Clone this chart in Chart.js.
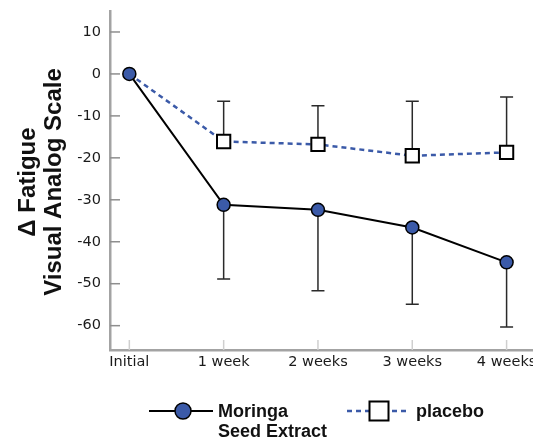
<!DOCTYPE html>
<html>
<head>
<meta charset="utf-8">
<script src="https://cdn.jsdelivr.net/npm/chart.js@4.4.1/dist/chart.umd.min.js"></script>
<style>
  html, body { margin: 0; padding: 0; background: #fff; }
  canvas { display: block; }
</style>
</head>
<body>
<canvas id="chart" width="533" height="438"></canvas>
<script>
const categories = ['Initial', '1 week', '2 weeks', '3 weeks', '4 weeks'];
const moringa = [0, -31.2, -32.4, -36.6, -44.9];
const moringaLow = [null, -48.9, -51.7, -54.9, -60.3];
const placebo = [0, -16.1, -16.8, -19.5, -18.7];
const placeboHigh = [null, -6.5, -7.6, -6.5, -5.5];
const yTicks = [10, 0, -10, -20, -30, -40, -50, -60];

const FONT = '"Liberation Sans", Arial, sans-serif';
const TICK_FONT = '"DejaVu Sans", sans-serif';
const BLUE = '#3b5aa8';

// tick marks, error bars, y title and legend
const deco = {
    id: 'deco',
    beforeDatasetsDraw(chart) {
        const { ctx, chartArea, scales: { x, y } } = chart;
        ctx.save();
        ctx.lineWidth = 1.5;
        ctx.strokeStyle = '#8e8e8e';
        yTicks.forEach(v => {
            const py = y.getPixelForValue(v);
            ctx.beginPath();
            ctx.moveTo(chartArea.left, py);
            ctx.lineTo(chartArea.left + 10, py);
            ctx.stroke();
        });
        ctx.strokeStyle = '#cfcfcf';
        categories.forEach((c, i) => {
            const px = x.getPixelForValue(i);
            ctx.beginPath();
            ctx.moveTo(px, chartArea.bottom);
            ctx.lineTo(px, chartArea.bottom - 10);
            ctx.stroke();
        });

        ctx.strokeStyle = '#2a2a2a';
        const errBar = (i, from, to) => {
            if (to === null) return;
            const px = x.getPixelForValue(i);
            const p1 = y.getPixelForValue(from);
            const p2 = y.getPixelForValue(to);
            ctx.beginPath();
            ctx.moveTo(px, p1);
            ctx.lineTo(px, p2);
            ctx.moveTo(px - 6.5, p2);
            ctx.lineTo(px + 6.5, p2);
            ctx.stroke();
        };
        categories.forEach((c, i) => {
            errBar(i, moringa[i], moringaLow[i]);
            errBar(i, placebo[i], placeboHigh[i]);
        });
        ctx.restore();
    },
    afterDraw(chart) {
        const ctx = chart.ctx;
        const [dsM, dsP] = chart.data.datasets;
        ctx.save();

        // y axis title
        ctx.fillStyle = '#111';
        ctx.font = 'bold 24px ' + FONT;
        ctx.textAlign = 'center';
        ctx.translate(0, 182);
        ctx.rotate(-Math.PI / 2);
        ctx.fillText('\u0394 Fatigue', 0, 35);
        ctx.fillText('Visual Analog Scale', 0, 61);
        ctx.setTransform(1, 0, 0, 1, 0, 0);

        // legend
        const ly = 411;
        ctx.strokeStyle = dsM.borderColor;
        ctx.lineWidth = dsM.borderWidth;
        ctx.beginPath();
        ctx.moveTo(149, ly);
        ctx.lineTo(213, ly);
        ctx.stroke();
        ctx.beginPath();
        ctx.arc(183, ly, 8, 0, Math.PI * 2);
        ctx.fillStyle = dsM.pointBackgroundColor;
        ctx.fill();
        ctx.lineWidth = 1.5;
        ctx.strokeStyle = '#000';
        ctx.stroke();

        ctx.strokeStyle = dsP.borderColor;
        ctx.lineWidth = dsP.borderWidth;
        ctx.setLineDash(dsP.borderDash);
        ctx.beginPath();
        ctx.moveTo(347, ly);
        ctx.lineTo(409, ly);
        ctx.stroke();
        ctx.setLineDash([]);
        ctx.fillStyle = '#fff';
        ctx.fillRect(369.5, ly - 9.5, 19, 19);
        ctx.lineWidth = 2;
        ctx.strokeStyle = '#000';
        ctx.strokeRect(369.5, ly - 9.5, 19, 19);

        ctx.fillStyle = '#111';
        ctx.font = 'bold 18px ' + FONT;
        ctx.textAlign = 'left';
        ctx.fillText('Moringa', 218, 417);
        ctx.fillText('Seed Extract', 218, 437);
        ctx.fillText('placebo', 416, 417);
        ctx.restore();
    }
};

new Chart(document.getElementById('chart'), {
    type: 'line',
    data: {
        datasets: [
            {
                label: 'Moringa Seed Extract',
                data: moringa.map((v, i) => ({ x: i, y: v })),
                borderColor: '#000',
                borderWidth: 2,
                pointStyle: 'circle',
                pointRadius: 6.5,
                pointBackgroundColor: BLUE,
                pointBorderColor: '#000',
                pointBorderWidth: 1.5
            },
            {
                label: 'placebo',
                data: placebo.map((v, i) => ({ x: i, y: v })),
                borderColor: BLUE,
                borderWidth: 2.5,
                borderDash: [5, 4],
                pointStyle: 'rect',
                pointRadius: ctx => ctx.dataIndex === 0 ? 0 : 9.4,
                pointBackgroundColor: '#fff',
                pointBorderColor: '#000',
                pointBorderWidth: 2
            }
        ]
    },
    options: {
        responsive: false,
        animation: false,
        layout: { autoPadding: false, padding: { top: 11, right: 0, bottom: 0, left: 0 } },
        plugins: { legend: { display: false }, tooltip: { enabled: false } },
        scales: {
            x: {
                type: 'linear',
                min: -0.205,
                max: 4.28,
                afterBuildTicks: s => { s.ticks = categories.map((c, i) => ({ value: i })); },
                afterFit: s => { s.height = 88; s.paddingLeft = 0; s.paddingRight = 0; },
                grid: { display: false, drawTicks: false },
                border: { display: true, color: '#a3a3a3', width: 2.5 },
                ticks: {
                    padding: 4,
                    maxRotation: 0,
                    autoSkip: false,
                    color: '#1a1a1a',
                    font: { family: TICK_FONT, size: 14.5 },
                    callback: v => categories[v]
                }
            },
            y: {
                min: -65.8,
                max: 15,
                afterBuildTicks: s => { s.ticks = yTicks.map(v => ({ value: v })); },
                afterFit: s => { s.width = 110; s.paddingTop = 0; s.paddingBottom = 0; },
                grid: { display: false, drawTicks: false },
                border: { display: true, color: '#a3a3a3', width: 2.5 },
                ticks: {
                    padding: 9,
                    color: '#1a1a1a',
                    font: { family: TICK_FONT, size: 14.5 }
                }
            }
        }
    },
    plugins: [deco]
});
</script>
</body>
</html>
